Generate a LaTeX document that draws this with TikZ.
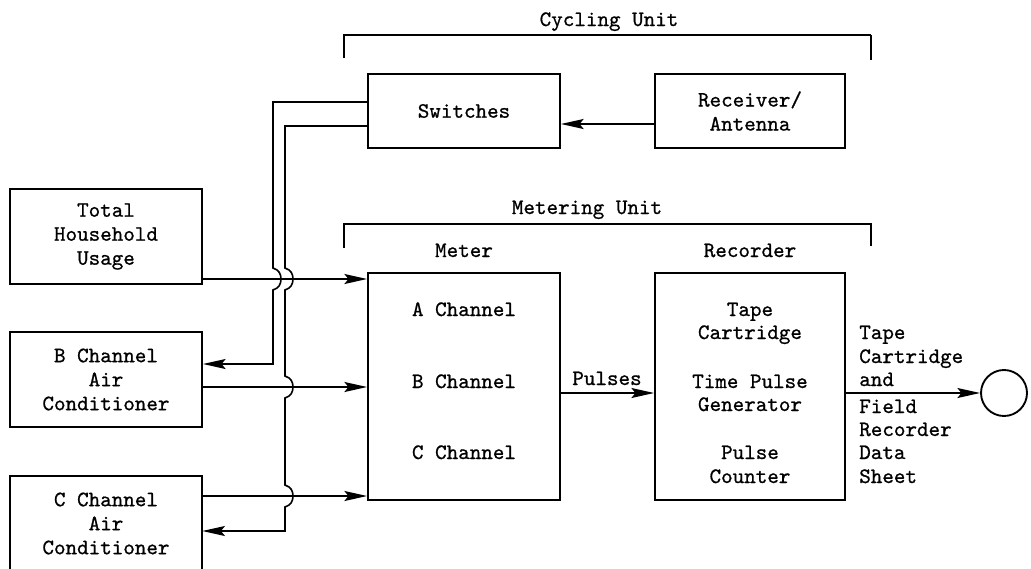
\documentclass[tikz,border=0pt]{standalone}
\usepackage{fontspec}
\setmonofont[FakeBold=0.8]{lmmono10-regular.otf}
\usetikzlibrary{arrows.meta}
\begin{document}
\begin{tikzpicture}[x=0.75pt,y=-0.75pt,
  every node/.style={font=\ttfamily\fontsize{16.5}{18}\selectfont, inner sep=0pt},
  box/.style={draw, line width=1.4pt, align=center},
  wire/.style={line width=1.2pt},
  arr/.style={-{Stealth[length=17pt,width=7.5pt,inset=3pt]}},
  brk/.style={line width=1pt},
  lbl/.style={anchor=base},
  side/.style={anchor=base west}
]
\useasboundingbox (0,0) rectangle (1031,568);

% unit brackets
\coordinate (cuL) at (344,58);  \coordinate (cuTL) at (344,35);
\coordinate (cuTR) at (871,35); \coordinate (cuR) at (871,60);
\draw[brk] (cuL) -- (cuTL) -- (cuTR);
\draw[line width=2.2pt] (cuTR) -- (cuR);
\node[lbl] (cyc) at (609,26) {Cycling Unit};

\coordinate (muL) at (344,248);  \coordinate (muTL) at (344,224);
\coordinate (muTR) at (871,224); \coordinate (muR) at (871,246);
\draw[brk] (muL) -- (muTL) -- (muTR) -- (muR);
\node[lbl] (met) at (587,214) {Metering Unit};

% boxes
\node[box, minimum width=144pt, minimum height=55.5pt] (sw) at (464,111) {Switches};
\node[box, minimum width=142.5pt, minimum height=55.5pt] (rx) at (750,111) {Receiver/\\Antenna};
\node[box, minimum width=144pt, minimum height=71.25pt] (thu) at (106,236.5) {Total\\Household\\Usage};
\node[box, minimum width=144pt, minimum height=71.25pt] (bac) at (106,379.5) {B Channel\\Air\\Conditioner};
\node[box, minimum width=144pt, minimum height=170.25pt] (mt) at (464,386.5) {};
\node[box, minimum width=142.5pt, minimum height=170.25pt] (rc) at (750,386.5) {};
\node[draw, circle, line width=1.4pt, minimum size=34.5pt] (out) at (1004,393) {};
% lowest source box runs off the bottom edge: three sides only
\node[align=center, minimum width=144pt, minimum height=71.25pt] (cac) at (106,523.5) {C Channel\\Air\\Conditioner};
\draw[line width=1.4pt] (cac.south west) -- (cac.north west) -- (cac.north east) -- (cac.south east);

% box headings and contents
\node[lbl] (mth) at (464,257) {Meter};
\node[lbl] (rch) at (750,257) {Recorder};
\node[lbl] (ach) at (464,316) {A Channel};
\node[lbl] (bch) at (464,388) {B Channel};
\node[lbl] (cch) at (464,459) {C Channel};
\node[lbl] (r1) at (750,316) {Tape};
\node[lbl] (r2) at (750,339) {Cartridge};
\node[lbl] (r3) at (750,388) {Time Pulse};
\node[lbl] (r4) at (750,411) {Generator};
\node[lbl] (r5) at (750,459) {Pulse};
\node[lbl] (r6) at (750,483) {Counter};

% output description
\node[side] (s1) at (859,339) {Tape};
\node[side] (s2) at (859,363) {Cartridge};
\node[side] (s3) at (859,386) {and};
\node[side] (s4) at (859,413) {Field};
\node[side] (s5) at (859,436) {Recorder};
\node[side] (s6) at (859,459) {Data};
\node[side] (s7) at (859,483) {Sheet};
\node[lbl] (pl) at (607,385) {Pulses};

% routing points
\coordinate (o1) at (273,102); \coordinate (o2) at (273,364);
\coordinate (i1) at (285,126); \coordinate (i2) at (285,531);
\coordinate (ya) at (0,279); \coordinate (yb) at (0,387);
\coordinate (yc) at (0,496); \coordinate (yp) at (0,393);
\coordinate (yr) at (0,124);

% control lines from the switches, hopping over the signal lines
\draw[wire,arr] (sw.west |- o1) -- (o1)
  -- (273,268) .. controls (279,270) and (281,274) .. (281,279)
               .. controls (281,284) and (279,288) .. (273,290)
  -- (o2) -- (bac.east |- o2);
\draw[wire,arr] (sw.west |- i1) -- (i1)
  -- (285,268) .. controls (291,270) and (293,274) .. (293,279)
               .. controls (293,284) and (291,288) .. (285,290)
  -- (285,376) .. controls (291,378) and (293,382) .. (293,387)
               .. controls (293,392) and (291,396) .. (285,398)
  -- (285,485) .. controls (291,487) and (293,491) .. (293,496)
               .. controls (293,501) and (291,505) .. (285,507)
  -- (i2) -- (cac.east |- i2);

% signal lines
\draw[wire,arr] (rx.west |- yr) -- (sw.east |- yr);
\draw[wire,arr] (thu.east |- ya) -- (mt.west |- ya);
\draw[wire,arr] (bac.east |- yb) -- (mt.west |- yb);
\draw[wire,arr] (cac.east |- yc) -- (mt.west |- yc);
\draw[wire,arr] (mt.east |- yp) -- (rc.west |- yp);
\draw[wire,arr] (rc.east |- yp) -- (out.west);
\end{tikzpicture}
\end{document}
